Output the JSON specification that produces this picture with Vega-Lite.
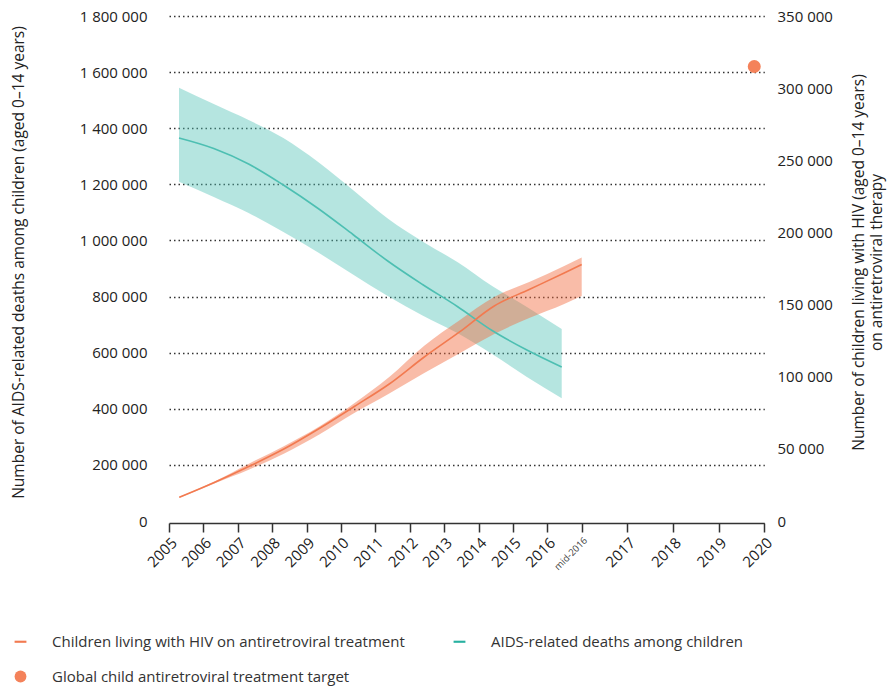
{
  "$schema": "https://vega.github.io/schema/vega-lite/v6.json",
  "width": 595,
  "height": 505,
  "autosize": {"type": "none"},
  "padding": {"left": 169, "top": 16, "right": 125, "bottom": 167},
  "config": {
    "font": "Open Sans",
    "locale": {"number": {"decimal": ".", "thousands": " ", "grouping": [3], "currency": ["", ""]}},
    "view": {"stroke": null},
    "axis": {"labelFont": "Open Sans", "labelFontSize": 15, "labelColor": "#222", "titleFont": "Open Sans", "titleFontSize": 15.5, "titleFontWeight": "normal", "titleColor": "#222"}
  },
  "datasets": {
    "art": [
      {"year": "2005", "t": 0.299, "value": 84500, "lower": 82000, "upper": 86000},
      {"year": "2006", "t": 1.317, "value": 137200, "lower": 133700, "upper": 140800},
      {"year": "2007", "t": 2.334, "value": 195000, "lower": 183600, "upper": 205000},
      {"year": "2008", "t": 3.352, "value": 257300, "lower": 240600, "upper": 267300},
      {"year": "2009", "t": 4.369, "value": 329700, "lower": 308300, "upper": 336800},
      {"year": "2010", "t": 5.387, "value": 408100, "lower": 385000, "upper": 420000},
      {"year": "2011", "t": 6.404, "value": 488300, "lower": 454500, "upper": 513300},
      {"year": "2012", "t": 7.422, "value": 584600, "lower": 527500, "upper": 625000},
      {"year": "2013", "t": 8.439, "value": 673000, "lower": 597000, "upper": 714700},
      {"year": "2014", "t": 9.456, "value": 766400, "lower": 666500, "upper": 798400},
      {"year": "2015", "t": 10.474, "value": 825200, "lower": 723600, "upper": 851900},
      {"year": "2016", "t": 11.491, "value": 884000, "lower": 773500, "upper": 908900},
      {"year": "mid-2016", "t": 12, "value": 914300, "lower": 802000, "upper": 939200}
    ],
    "deaths": [
      {"year": "2005", "t": 0.291, "value": 265450, "lower": 235160, "upper": 300310},
      {"year": "2006", "t": 1.302, "value": 258170, "lower": 224550, "upper": 289010},
      {"year": "2007", "t": 2.314, "value": 247430, "lower": 213470, "upper": 277920},
      {"year": "2008", "t": 3.326, "value": 232870, "lower": 200300, "upper": 265450},
      {"year": "2009", "t": 4.337, "value": 216580, "lower": 186090, "upper": 248810},
      {"year": "2010", "t": 5.349, "value": 198570, "lower": 170840, "upper": 229410},
      {"year": "2011", "t": 6.36, "value": 180200, "lower": 155940, "upper": 209650},
      {"year": "2012", "t": 7.372, "value": 163910, "lower": 142430, "upper": 193710},
      {"year": "2013", "t": 8.384, "value": 148660, "lower": 130300, "upper": 179510},
      {"year": "2014", "t": 9.395, "value": 132030, "lower": 115740, "upper": 162870},
      {"year": "2015", "t": 10.407, "value": 118520, "lower": 99800, "upper": 148320},
      {"year": "2016", "t": 11.419, "value": 106730, "lower": 85040, "upper": 133070}
    ],
    "target": [
      {"year": "2020", "t": 15.78, "value": 1620000, "series": "Global child antiretroviral treatment target"}
    ]
  },
  "encoding": {
    "x": {
      "field": "t",
      "type": "quantitative",
      "scale": {"domain": [0, 12, 16], "range": [0, 412.7, 595.3], "nice": false, "zero": false},
      "axis": {
        "title": null,
        "values": [0, 1, 2, 3, 4, 5, 6, 7, 8, 9, 10, 11, 12, 13, 14, 15, 16],
        "labelExpr": "datum.value < 12 ? '' + (2005 + datum.value) : (datum.value == 12 ? 'mid-2016' : '' + (2004 + datum.value))",
        "labelAngle": -45,
        "labelFontSize": {"expr": "datum.value == 12 ? 9.5 : 15"},
        "labelColor": {"expr": "datum.value == 12 ? '#444' : '#222'"},
        "labelOverlap": false,
        "labelFlush": false,
        "labelPadding": 3,
        "grid": false,
        "offset": 2,
        "domainColor": "#333",
        "domainWidth": 1.5,
        "tickColor": "#333",
        "tickWidth": 1.5,
        "tickSize": 9
      }
    }
  },
  "layer": [
    {
      "data": {"name": "deaths"},
      "mark": {"type": "area", "color": "#4FC2B4", "opacity": 0.42, "interpolate": "monotone"},
      "encoding": {
        "y": {
          "field": "upper", "type": "quantitative",
          "scale": {"domain": [0, 350000], "nice": false, "zero": true},
          "axis": {
            "orient": "right",
            "values": [0, 50000, 100000, 150000, 200000, 250000, 300000, 350000],
            "format": ",d",
            "domain": false, "ticks": false, "grid": false,
            "labelPadding": 13,
            "title": ["Number of children living with HIV (aged 0–14 years)", "on antiretroviral therapy"],
            "titleAngle": -90,
            "titleAlign": "center",
            "titleBaseline": "middle",
            "titleLineHeight": 18,
            "titleX": 94,
            "titleY": 246
          }
        },
        "y2": {"field": "lower"}
      }
    },
    {
      "data": {"name": "art"},
      "mark": {"type": "area", "color": "#F26A3E", "opacity": 0.45, "interpolate": "monotone"},
      "encoding": {
        "y": {
          "field": "upper", "type": "quantitative",
          "scale": {"domain": [0, 1800000], "nice": false, "zero": true},
          "axis": {
            "orient": "left",
            "values": [0, 200000, 400000, 600000, 800000, 1000000, 1200000, 1400000, 1600000, 1800000],
            "format": ",d",
            "domain": false, "ticks": false,
            "grid": true,
            "gridDash": [1.5, 3],
            "gridColor": "#333",
            "gridWidth": 1.3,
            "gridOpacity": {"condition": {"test": "datum.value === 0", "value": 0}, "value": 1},
            "labelPadding": 22,
            "title": "Number of AIDS-related deaths among children (aged 0–14 years)",
            "titleAngle": -90,
            "titleAlign": "center",
            "titleBaseline": "middle",
            "titleX": -151,
            "titleY": 246
          }
        },
        "y2": {"field": "lower"}
      }
    },
    {
      "data": {"name": "deaths"},
      "mark": {"type": "line", "color": "#4DBFB2", "strokeWidth": 1.6, "interpolate": "monotone"},
      "encoding": {
        "y": {"field": "value", "type": "quantitative", "scale": {"domain": [0, 350000], "nice": false}, "axis": null}
      }
    },
    {
      "data": {"name": "art"},
      "mark": {"type": "line", "color": "#F27A50", "strokeWidth": 1.6, "interpolate": "monotone"},
      "encoding": {
        "y": {"field": "value", "type": "quantitative", "scale": {"domain": [0, 1800000], "nice": false}, "axis": null}
      }
    },
    {
      "data": {"values": [{}]},
      "mark": {"type": "rule", "color": "#333", "strokeDash": [1.5, 3], "strokeWidth": 1.3},
      "encoding": {"x": {"datum": 12}}
    },
    {
      "data": {"name": "target"},
      "mark": {"type": "point", "filled": true, "opacity": 1, "size": 170},
      "encoding": {
        "y": {"field": "value", "type": "quantitative", "scale": {"domain": [0, 1800000], "nice": false}, "axis": null},
        "color": {
          "field": "series", "type": "nominal",
          "scale": {
            "domain": ["Children living with HIV on antiretroviral treatment", "AIDS-related deaths among children", "Global child antiretroviral treatment target"],
            "range": ["#F27A50", "#27B0A0", "#F4825A"]
          },
          "legend": {
            "title": null,
            "orient": "none",
            "direction": "horizontal",
            "legendX": -156,
            "legendY": 618,
            "columns": 2,
            "columnPadding": 47,
            "rowPadding": 19,
            "labelFont": "Open Sans",
            "labelFontSize": 15,
            "labelColor": "#333",
            "labelOffset": 24,
            "labelLimit": 0,
            "symbolSize": 140,
            "symbolStrokeWidth": 0,
            "symbolOpacity": 1
          }
        },
        "shape": {
          "field": "series", "type": "nominal",
          "scale": {
            "domain": ["Children living with HIV on antiretroviral treatment", "AIDS-related deaths among children", "Global child antiretroviral treatment target"],
            "range": ["M-1,-0.18H1V0.18H-1Z", "M-1,-0.18H1V0.18H-1Z", "circle"]
          }
        }
      }
    }
  ],
  "resolve": {"scale": {"y": "independent"}, "axis": {"y": "independent"}}
}
